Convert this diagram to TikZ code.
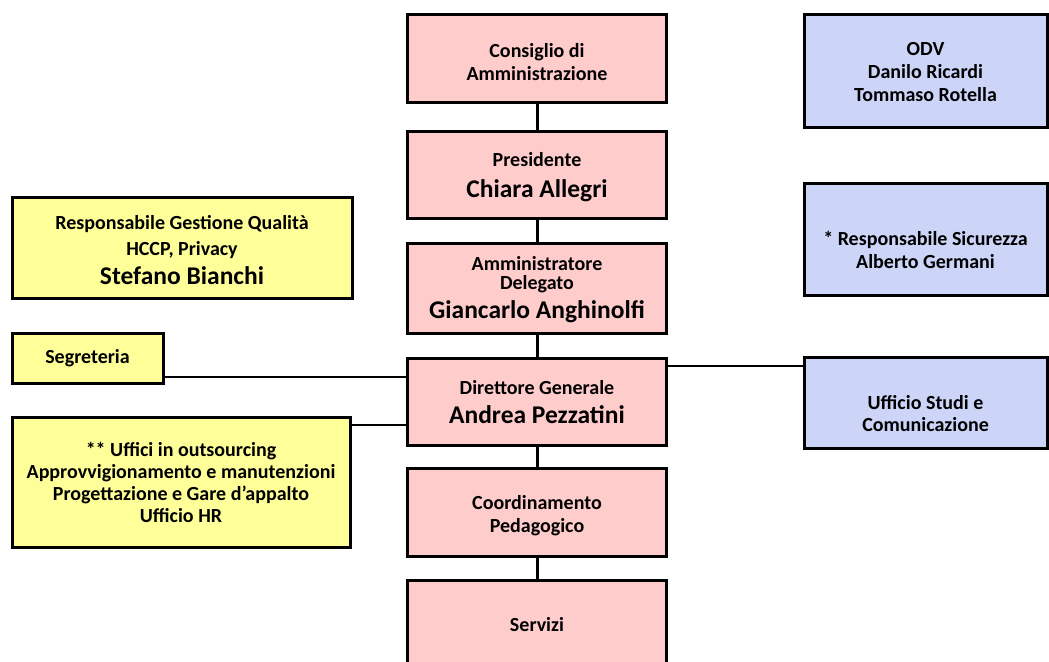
\documentclass[tikz,border=0pt]{standalone}
\usepackage{fontspec}
\setmainfont{Carlito}
\definecolor{pinkfill}{HTML}{FFCCCC}
\definecolor{yellowfill}{HTML}{FFFF99}
\definecolor{bluefill}{HTML}{CCD5F8}
\newcommand{\sm}{\fontsize{20}{23}\selectfont}
\newcommand{\bg}{\fontsize{25.5}{30}\selectfont}
\tikzset{
  box/.style={draw=black, line width=3pt, rectangle, inner sep=0pt},
  pinkbox/.style={box, fill=pinkfill, minimum width=259pt},
  yellowbox/.style={box, fill=yellowfill},
  bluebox/.style={box, fill=bluefill, minimum width=243pt},
  txt/.style={align=center, inner sep=0pt, font=\bfseries\sm},
  vlink/.style={line width=3pt},
  hlink/.style={line width=1.5pt}
}
\begin{document}
\begin{tikzpicture}[x=1pt,y=-1pt]
\useasboundingbox (0,0) rectangle (1049,661);
\begin{scope}
\clip (0,0) rectangle (1049,661);
% central column
\node[pinkbox, minimum height=87pt] (cda) at (537,58.5) {};
\node[pinkbox, minimum height=87pt] (pres) at (537,174.5) {};
\node[pinkbox, minimum height=90pt] (ad) at (537,288) {};
\node[pinkbox, minimum height=87pt] (dg) at (537,401.5) {};
\node[pinkbox, minimum height=88pt] (coord) at (537,512) {};
\node[pinkbox, minimum height=90pt] (serv) at (537,625) {};
% left column
\node[yellowbox, minimum width=340pt, minimum height=101pt] (qual) at (182,247.5) {};
\node[yellowbox, minimum width=151pt, minimum height=50pt] (segr) at (87.5,358) {};
\node[yellowbox, minimum width=338pt, minimum height=130pt] (out) at (181,482) {};
% right column
\node[bluebox, minimum height=112pt] (odv) at (925.5,71) {};
\node[bluebox, minimum height=112pt] (sic) at (925.5,239) {};
\node[bluebox, minimum height=91pt] (usc) at (925.5,402.5) {};
% texts
\node[txt] (cda-t) at ([yshift=-3.5pt]cda.center) {Consiglio di\\Amministrazione};
\node[txt] (pres-t) at ([yshift=-3pt]pres.center) {Presidente\\[8pt]{\bg Chiara Allegri}};
\node[txt] (ad-t) at ([yshift=-2pt]ad.center) {Amministratore\\[-4pt]Delegato\\[6pt]{\bg Giancarlo Anghinolfi}};
\node[txt] (dg-t) at ([yshift=-0.5pt]dg.center) {Direttore Generale\\[6pt]{\bg Andrea Pezzatini}};
\node[txt] (coord-t) at ([yshift=-4pt]coord.center) {Coordinamento\\Pedagogico};
\node[txt] (serv-t) at (serv.center) {Servizi};
\node[txt] (qual-t) at ([yshift=-3pt]qual.center) {Responsabile Gestione Qualità\\[3pt]HCCP, Privacy\\[6pt]{\bg Stefano Bianchi}};
\node[txt] (segr-t) at (segr.center) {Segreteria};
\node[txt] (out-t) at (out.center) {** Uffici in outsourcing\\[-1pt]Approvvigionamento e manutenzioni\\[-1pt]Progettazione e Gare d’appalto\\[-1pt]Ufficio HR};
\node[txt] (odv-t) at ([yshift=-1pt]odv.center) {ODV\\Danilo Ricardi\\Tommaso Rotella};
\node[txt] (sic-t) at ([yshift=-11pt]sic.center) {* Responsabile Sicurezza\\Alberto Germani};
\node[txt] (usc-t) at ([yshift=-11pt]usc.center) {Ufficio Studi e\\[-1pt]Comunicazione};
% connectors
\draw[vlink] (cda.south) -- (pres.north);
\draw[vlink] (pres.south) -- (ad.north);
\draw[vlink] (ad.south) -- (dg.north);
\draw[vlink] (dg.south) -- (coord.north);
\draw[vlink] (coord.south) -- (serv.north);
\draw[hlink] (segr.east |- 0,377) -- (dg.west |- 0,377);
\draw[hlink] (out.east |- 0,425) -- (dg.west |- 0,425);
\draw[hlink] (dg.east |- 0,366) -- (usc.west |- 0,366);
\end{scope}
\end{tikzpicture}
\end{document}
